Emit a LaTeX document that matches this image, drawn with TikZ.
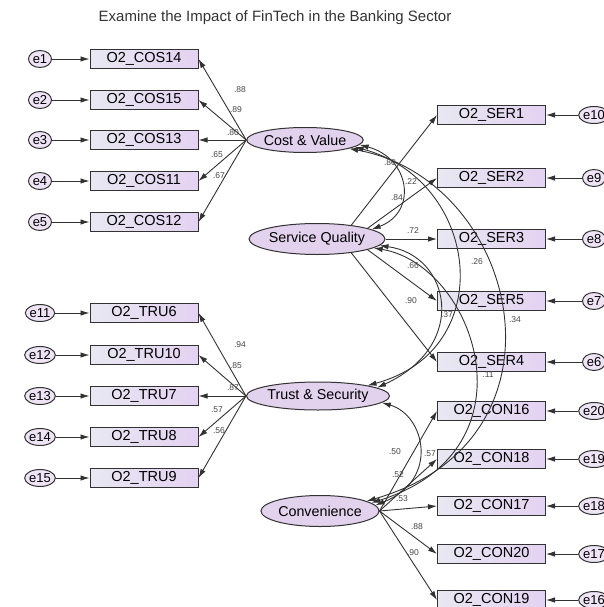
\documentclass[tikz,border=0pt]{standalone}
\usepackage{fontspec}
\setmainfont{Liberation Sans}
\usetikzlibrary{arrows.meta, shapes.geometric}
\definecolor{linegray}{RGB}{50,50,50}
\definecolor{boxleft}{RGB}{232,232,242}
\definecolor{boxright}{RGB}{228,210,242}
\definecolor{latfill}{RGB}{226,210,238}
\definecolor{errfill}{RGB}{238,228,246}
\definecolor{lblgray}{RGB}{70,70,70}

\begin{document}
\begin{tikzpicture}[x=1pt, y=-1pt,
    obs/.style={rectangle, draw=linegray, line width=1pt, left color=boxleft, right color=boxright, minimum width=108pt, minimum height=19pt, inner sep=0pt, font=\fontsize{14.5}{15}\selectfont},
    err/.style={ellipse, draw=linegray, line width=1pt, fill=errfill, minimum width=23pt, minimum height=17pt, inner sep=0pt, font=\fontsize{13}{13}\selectfont},
    lat/.style={ellipse, draw=linegray, line width=1pt, fill=latfill, inner sep=0pt, font=\fontsize{14.3}{15}\selectfont},
    load/.style={draw=linegray, line width=0.9pt, -{Latex[length=9pt,width=5.5pt]}},
    cov/.style={draw=linegray, line width=0.9pt, {Latex[length=9pt,width=5.5pt]}-{Latex[length=9pt,width=5.5pt]}},
    coef/.style={font=\fontsize{8.5}{9}\selectfont, text=lblgray, inner sep=1pt}]
    \useasboundingbox (0,0) rectangle (604,607);

    \node[font=\fontsize{15}{16}\selectfont, text=black!80] (title) at (275,18) {Examine the Impact of FinTech in the Banking Sector};

    % latent variables
    \node[lat, minimum width=105pt, minimum height=25pt] (cv) at (305,140) {Cost \& Value};
    \node[lat, minimum width=119pt, minimum height=31pt] (sq) at (317,239) {Service Quality};
    \node[lat, minimum width=128pt, minimum height=28pt] (ts) at (318,396) {Trust \& Security};
    \node[lat, minimum width=115pt, minimum height=31pt] (conv) at (320,511) {Convenience};

    % cost & value items
    \node[obs] (cos14) at (144,59) {O2\_COS14};
    \node[obs] (cos15) at (144,100) {O2\_COS15};
    \node[obs] (cos13) at (144,140) {O2\_COS13};
    \node[obs] (cos11) at (144,181) {O2\_COS11};
    \node[obs] (cos12) at (144,222) {O2\_COS12};
    \node[err] (e1) at (40,59) {e1};
    \node[err] (e2) at (40,100) {e2};
    \node[err] (e3) at (40,140) {e3};
    \node[err] (e4) at (40,181) {e4};
    \node[err] (e5) at (40,222) {e5};

    % trust & security items
    \node[obs] (tru6) at (144,313) {O2\_TRU6};
    \node[obs] (tru10) at (144,355) {O2\_TRU10};
    \node[obs] (tru7) at (144,396) {O2\_TRU7};
    \node[obs] (tru8) at (144,437) {O2\_TRU8};
    \node[obs] (tru9) at (144,478) {O2\_TRU9};
    \node[err] (e11) at (40,313) {e11};
    \node[err] (e12) at (40,355) {e12};
    \node[err] (e13) at (40,396) {e13};
    \node[err] (e14) at (40,437) {e14};
    \node[err] (e15) at (40,478) {e15};

    % service quality items
    \node[obs] (ser1) at (491.5,115) {O2\_SER1};
    \node[obs] (ser2) at (491.5,178) {O2\_SER2};
    \node[obs] (ser3) at (491.5,239) {O2\_SER3};
    \node[obs] (ser5) at (491.5,301) {O2\_SER5};
    \node[obs] (ser4) at (491.5,362) {O2\_SER4};
    \node[err] (e10) at (594,115) {e10};
    \node[err] (e9) at (594,178) {e9};
    \node[err] (e8) at (594,239) {e8};
    \node[err] (e7) at (594,301) {e7};
    \node[err] (e6) at (594,362) {e6};

    % convenience items
    \node[obs] (con16) at (491.5,411) {O2\_CON16};
    \node[obs] (con18) at (491.5,459) {O2\_CON18};
    \node[obs] (con17) at (491.5,506) {O2\_CON17};
    \node[obs] (con20) at (491.5,554) {O2\_CON20};
    \node[obs] (con19) at (491.5,600) {O2\_CON19};
    \node[err] (e20) at (594,411) {e20};
    \node[err] (e19) at (594,459) {e19};
    \node[err] (e18) at (594,506) {e18};
    \node[err] (e17) at (594,554) {e17};
    \node[err] (e16) at (594,600) {e16};

    % error terms
    \draw[load] (e1) -- (cos14);
    \draw[load] (e2) -- (cos15);
    \draw[load] (e3) -- (cos13);
    \draw[load] (e4) -- (cos11);
    \draw[load] (e5) -- (cos12);
    \draw[load] (e11) -- (tru6);
    \draw[load] (e12) -- (tru10);
    \draw[load] (e13) -- (tru7);
    \draw[load] (e14) -- (tru8);
    \draw[load] (e15) -- (tru9);
    \draw[load] (e10) -- (ser1);
    \draw[load] (e9) -- (ser2);
    \draw[load] (e8) -- (ser3);
    \draw[load] (e7) -- (ser5);
    \draw[load] (e6) -- (ser4);
    \draw[load] (e20) -- (con16);
    \draw[load] (e19) -- (con18);
    \draw[load] (e18) -- (con17);
    \draw[load] (e17) -- (con20);
    \draw[load] (e16) -- (con19);

    % loadings
    \draw[load] (cv.west) -- (cos14.east);
    \draw[load] (cv.west) -- (cos15.east);
    \draw[load] (cv.west) -- (cos13.east);
    \draw[load] (cv.west) -- (cos11.east);
    \draw[load] (cv.west) -- (cos12.east);
    \draw[load] (ts.west) -- (tru6.east);
    \draw[load] (ts.west) -- (tru10.east);
    \draw[load] (ts.west) -- (tru7.east);
    \draw[load] (ts.west) -- (tru8.east);
    \draw[load] (ts.west) -- (tru9.east);
    \draw[load] (sq.22) -- (ser1.west);
    \draw[load] (sq.12) -- (ser2.west);
    \draw[load] (sq.east) -- (ser3.west);
    \draw[load] (sq.-12) -- (ser5.west);
    \draw[load] (sq.-22) -- (ser4.west);
    \draw[load] (conv.east) -- (con16.west);
    \draw[load] (conv.east) -- (con18.west);
    \draw[load] (conv.east) -- (con17.west);
    \draw[load] (conv.east) -- (con20.west);
    \draw[load] (conv.east) -- (con19.west);

    % covariances
    \draw[cov] (cv.-5) .. controls (410,158) and (418,212) .. (sq.10);
    \draw[cov] (cv.-8) .. controls (480,180) and (500,350) .. (ts.12);
    \draw[cov] (cv.-11) .. controls (520,180) and (580,440) .. (conv.12);
    \draw[cov] (sq.-6) .. controls (450,255) and (470,345) .. (ts.8);
    \draw[cov] (sq.-9) .. controls (475,265) and (540,450) .. (conv.9);
    \draw[cov] (ts.-6) .. controls (425,415) and (440,480) .. (conv.6);

    % coefficients
    \node[coef] (k1) at (240,90) {.88};
    \node[coef] (k2) at (236,110) {.89};
    \node[coef] (k3) at (233,133) {.80};
    \node[coef] (k4) at (217,155) {.65};
    \node[coef] (k5) at (219,176) {.67};
    \node[coef] (k6) at (240,345) {.94};
    \node[coef] (k7) at (236,366) {.85};
    \node[coef] (k8) at (233,388) {.87};
    \node[coef] (k9) at (217,410) {.57};
    \node[coef] (k10) at (219,431) {.56};
    \node[coef] (k11) at (390,163) {.80};
    \node[coef] (k12) at (411,182) {.22};
    \node[coef] (k13) at (397,198) {.84};
    \node[coef] (k14) at (413,231) {.72};
    \node[coef] (k15) at (413,266) {.66};
    \node[coef] (k16) at (411,301) {.90};
    \node[coef] (k17) at (477,262) {.26};
    \node[coef] (k18) at (447,315) {.37};
    \node[coef] (k19) at (515,320) {.34};
    \node[coef] (k20) at (488,375) {.11};
    \node[coef] (k21) at (395,452) {.50};
    \node[coef] (k22) at (398,475) {.52};
    \node[coef] (k23) at (430,454) {.57};
    \node[coef] (k24) at (402,499) {.53};
    \node[coef] (k25) at (417,527) {.88};
    \node[coef] (k26) at (413,553) {.90};
\end{tikzpicture}
\end{document}
